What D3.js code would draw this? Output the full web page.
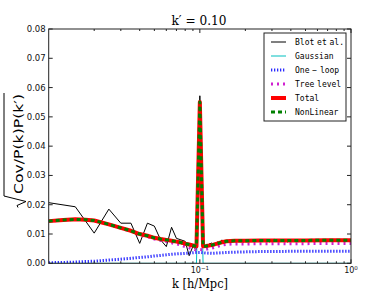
<!DOCTYPE html>
<html><head><meta charset="utf-8">
<script src="https://cdn.jsdelivr.net/npm/d3@7/dist/d3.min.js"></script>
<style>body{margin:0;background:#fff}svg{display:block}</style>
</head><body>
<svg id="c" width="390" height="293"></svg>
<script>
// ---- data ----
const kModel = [0.01,0.0125,0.015,0.0175,0.02,0.025,0.03,0.035,0.04,0.045,0.05,0.055,0.06,0.065,0.07,0.075,0.08,0.085,0.09,0.095,0.1,0.105,0.11,0.12,0.13,0.14,0.15,0.17,0.2,0.25,0.3,0.4,0.5,0.7,1.0];
const total = [0.0144,0.0148,0.0150,0.0149,0.0146,0.0133,0.0121,0.0111,0.0100,0.0094,0.0087,0.0083,0.0080,0.0077,0.0074,0.0071,0.0067,0.0064,0.0061,0.0058,0.0551,0.0058,0.0059,0.0062,0.0067,0.0072,0.0075,0.0077,0.0077,0.0078,0.0078,0.0078,0.0078,0.0079,0.0079];
const nonLinear = [0.0144,0.0148,0.0150,0.0149,0.0146,0.0133,0.0121,0.0111,0.0100,0.0094,0.0087,0.0083,0.0080,0.0077,0.0074,0.0071,0.0067,0.0064,0.0061,0.0058,0.0551,0.0058,0.0059,0.0062,0.0067,0.0072,0.0075,0.0077,0.0077,0.0078,0.0078,0.0078,0.0078,0.0079,0.0079];
const treeLevel = [0.0144,0.0148,0.0150,0.0149,0.0146,0.0133,0.0120,0.0110,0.0098,0.0091,0.0083,0.0078,0.0074,0.0070,0.0066,0.0062,0.0057,0.0053,0.0049,0.0045,0.0047,0.0046,0.0048,0.0052,0.0057,0.0062,0.0065,0.0066,0.0066,0.0067,0.0067,0.0067,0.0067,0.0068,0.0068];
const oneLoop = [0.0002,0.0003,0.0004,0.0006,0.0007,0.0011,0.0014,0.0017,0.0020,0.0022,0.0025,0.0027,0.0029,0.0031,0.0032,0.0033,0.0034,0.0035,0.0036,0.0037,0.0037,0.0036,0.0035,0.0034,0.0035,0.0036,0.0037,0.0038,0.0039,0.0040,0.0040,0.0041,0.0041,0.0041,0.0041];
const gaussian = [0,0,0,0,0,0,0,0,0,0,0,0,0,0,0,0,0,0,0,0,0.0545,0,0,0,0,0,0,0,0,0,0,0,0,0,0];
const kBlot = [0.010,0.015,0.020,0.025,0.030,0.035,0.040,0.045,0.050,0.055,0.060,0.065,0.070,0.075,0.080,0.085,0.090,0.095,0.100,
  0.105,0.110,0.115,0.120,0.125,0.130,0.135,0.140,0.145,0.150,0.155,0.160,0.165,0.170,0.175,0.180,0.185,0.190,0.195,0.200,
  0.21,0.22,0.23,0.24,0.25,0.26,0.27,0.28,0.29,0.30,0.31,0.32,0.33,0.34,0.35,0.36,0.37,0.38,0.39,0.40,0.41,0.42,0.43,0.44,0.45,0.46,0.47,0.48,0.49,0.50];
const blot = [0.0207,0.0193,0.0103,0.0185,0.0137,0.0137,0.0068,0.0137,0.0127,0.0080,0.0057,0.0123,0.0085,0.0080,0.0075,0.0026,0.0058,0.0045,0.0572,
  0.0062,0.0053,0.0066,0.0069,0.0060,0.0073,0.0070,0.0080,0.0068,0.0077,0.0074,0.0071,0.0078,0.0075,0.0072,0.0079,0.0074,0.0076,0.0073,0.0078,
  0.0075,0.0079,0.0073,0.0077,0.0081,0.0074,0.0076,0.0078,0.0073,0.0077,0.0083,0.0075,0.0078,0.0074,0.0079,0.0076,0.0078,0.0073,0.0077,0.0079,0.0075,0.0078,0.0076,0.0080,0.0074,0.0077,0.0079,0.0076,0.0078,0.0080];
const yTicks = [0,0.01,0.02,0.03,0.04,0.05,0.06,0.07,0.08];
const xMajor = [0.1, 1];
const xMajorExp = ["-1","0"];
const xMinor = [0.02,0.03,0.04,0.05,0.06,0.07,0.08,0.09,0.2,0.3,0.4,0.5,0.6,0.7,0.8,0.9];
const legendLabels = ["Blot et al.","Gaussian","One \u2212 loop","Tree level","Total","NonLinear"];

// ---- layout ----
const L=48.7, R=351, T=29, B=263.3;
const x = d3.scaleLog().domain([0.01,1]).range([L,R]);
const y = d3.scaleLinear().domain([0,0.08]).range([B,T]);
const svg = d3.select("#c");

const styles = {
  blot:{stroke:"#000",w:1,dash:null},
  gauss:{stroke:"#00bfbf",w:1,dash:null},
  loop:{stroke:"#2a2aff",w:3,dash:"1.3,1.7"},
  tree:{stroke:"#d020d0",w:3,dash:"2,4"},
  total:{stroke:"#ff0000",w:4,dash:null},
  nl:{stroke:"#008000",w:3,dash:"4,3"}
};
const clip = svg.append("clipPath").attr("id","pc").append("rect").attr("x",L).attr("y",T).attr("width",R-L).attr("height",B-T);
const g = svg.append("g").attr("clip-path","url(#pc)");
function draw(ks, vs, s){
  const line = d3.line().x((d,i)=>x(ks[i])).y(d=>y(d));
  const p = g.append("path").datum(vs).attr("d",line).attr("fill","none")
    .attr("stroke",s.stroke).attr("stroke-width",s.w).attr("stroke-linejoin","round");
  if(s.dash) p.attr("stroke-dasharray",s.dash);
}
draw(kBlot, blot, styles.blot);
draw(kModel, gaussian, styles.gauss);
draw(kModel, oneLoop, styles.loop);
draw(kModel, treeLevel, styles.tree);
draw(kModel, total, styles.total);
draw(kModel, nonLinear, styles.nl);

// frame
const ax = svg.append("g").attr("stroke","#222").attr("stroke-width",1);
ax.append("rect").attr("x",L).attr("y",T).attr("width",R-L).attr("height",B-T).attr("fill","none");
yTicks.forEach(v=>{
  ax.append("line").attr("x1",L).attr("x2",L+4).attr("y1",y(v)).attr("y2",y(v));
  ax.append("line").attr("x1",R).attr("x2",R-4).attr("y1",y(v)).attr("y2",y(v));
  svg.append("text").attr("x",L-3).attr("y",y(v)+3).attr("text-anchor","end")
    .attr("font-family","DejaVu Sans").attr("font-size",8.5).attr("fill","#111").text(v.toFixed(2));
});
xMajor.forEach((v,i)=>{
  ax.append("line").attr("x1",x(v)).attr("x2",x(v)).attr("y1",B).attr("y2",B-4);
  ax.append("line").attr("x1",x(v)).attr("x2",x(v)).attr("y1",T).attr("y2",T+4);
  const t = svg.append("text").attr("x",x(v)).attr("y",B+10).attr("text-anchor","middle")
    .attr("font-family","DejaVu Sans").attr("font-size",8).attr("fill","#111");
  t.append("tspan").text("10");
  t.append("tspan").attr("dy",-3.5).attr("font-size",5.5).text(xMajorExp[i].replace("-","\u2212"));
});
xMinor.forEach(v=>{
  ax.append("line").attr("x1",x(v)).attr("x2",x(v)).attr("y1",B).attr("y2",B-2);
  ax.append("line").attr("x1",x(v)).attr("x2",x(v)).attr("y1",T).attr("y2",T+2);
});

// title
svg.append("text").attr("x",199).attr("y",25).attr("text-anchor","middle")
  .attr("font-family","DejaVu Serif").attr("font-size",13).attr("fill","#000")
  .attr("textLength",55).attr("lengthAdjust","spacingAndGlyphs").text("k\u2032 = 0.10");
// x label
svg.append("text").attr("x",200).attr("y",288).attr("text-anchor","middle")
  .attr("font-family","DejaVu Serif").attr("font-size",12.5).attr("fill","#000")
  .attr("textLength",56).attr("lengthAdjust","spacingAndGlyphs").text("k [h/Mpc]");
// y label
const yl = svg.append("g").attr("transform","translate(23,194) rotate(-90)");
yl.append("text").attr("x",0).attr("y",0).attr("font-family","DejaVu Sans").attr("font-size",13)
  .attr("fill","#000").attr("textLength",100).attr("lengthAdjust","spacingAndGlyphs").text("Cov/P(k)P(k\u2032)");
yl.append("path").attr("d","M101,-19 L-2,-19 L-7.5,3 L-11.5,-6 L-13.5,-5")
  .attr("fill","none").attr("stroke","#000").attr("stroke-width",1);

// legend
const lg = svg.append("g");
lg.append("rect").attr("x",264).attr("y",33).attr("width",82).attr("height",88)
  .attr("fill","#fff").attr("stroke","#222").attr("stroke-width",1);
const legStyles=[styles.blot,styles.gauss,styles.loop,styles.tree,styles.total,styles.nl];
legendLabels.forEach((lab,i)=>{
  const yy = 42 + i*14;
  const s = legStyles[i];
  const ln = lg.append("line").attr("x1",271).attr("x2",286).attr("y1",yy).attr("y2",yy)
    .attr("stroke",s.stroke).attr("stroke-width",s.w);
  if(s.dash) ln.attr("stroke-dasharray",s.dash);
  lg.append("text").attr("x",295).attr("y",yy+3).attr("font-family","DejaVu Sans Mono")
    .attr("font-size",8).attr("fill","#000").attr("word-spacing",-2).text(lab);
});
</script>
</body></html>
